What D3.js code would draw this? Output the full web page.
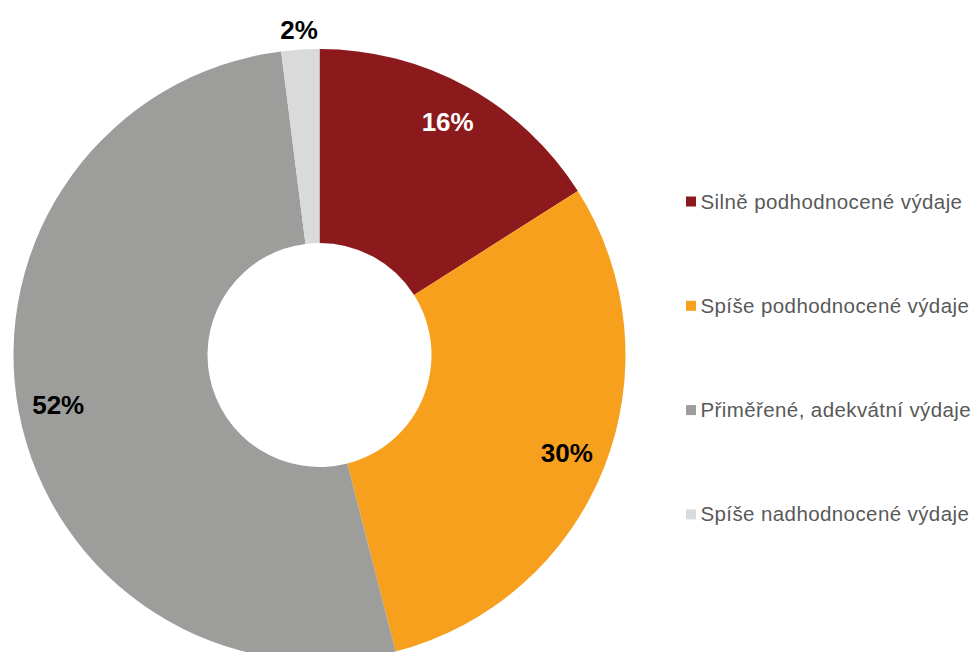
<!DOCTYPE html>
<html>
<head>
<meta charset="utf-8">
<script src="https://cdn.jsdelivr.net/npm/d3@7"></script>
<style>
  html, body { margin: 0; padding: 0; background: #fff; }
  svg { display: block; }
</style>
</head>
<body>
<svg id="chart" width="973" height="652"></svg>
<script>
// Categories, values (percent) and slice colours
const categories = [
  "Silně podhodnocené výdaje",
  "Spíše podhodnocené výdaje",
  "Přiměřené, adekvátní výdaje",
  "Spíše nadhodnocené výdaje"
];
const values = [16, 30, 52, 2];
const colors = ["#8C191B", "#F7A01E", "#9D9D9C", "#DADADA"];
const labelColors = ["#ffffff", "#000000", "#000000", "#000000"];

const svg = d3.select("#chart");
const cx = 319.5, cy = 355;
const outerR = 306, innerR = 112;

const pie = d3.pie().sort(null).value(d => d);
const arcs = pie(values);

const arc = d3.arc().innerRadius(innerR).outerRadius(outerR);
const labelArc = d3.arc().innerRadius(266).outerRadius(266);
const outsideArc = d3.arc().innerRadius(outerR + 20).outerRadius(outerR + 20);

const g = svg.append("g").attr("transform", `translate(${cx},${cy})`);

g.selectAll("path.slice")
  .data(arcs)
  .join("path")
  .attr("class", "slice")
  .attr("d", arc)
  .attr("fill", (d, i) => colors[i]);

// Percentage labels; very thin slices get their label outside the ring
const isThin = d => (d.endAngle - d.startAngle) < 0.2;
g.selectAll("text.value")
  .data(arcs)
  .join("text")
  .attr("class", "value")
  .attr("transform", d => {
    const [x, y] = (isThin(d) ? outsideArc : labelArc).centroid(d);
    return `translate(${x},${y})`;
  })
  .attr("text-anchor", "middle")
  .attr("dy", "0.35em")
  .attr("font-family", "'Liberation Sans', Arial, sans-serif")
  .attr("font-weight", "bold")
  .attr("font-size", 26)
  .attr("fill", (d, i) => isThin(d) ? "#000000" : labelColors[i])
  .text(d => d.data + "%");

// Legend
const legendX = 686, legendY0 = 201.5, legendStep = 104.3;
const items = svg.append("g")
  .selectAll("g.item")
  .data(categories)
  .join("g")
  .attr("class", "item")
  .attr("transform", (d, i) => `translate(${legendX},${legendY0 + i * legendStep})`);

items.append("rect")
  .attr("x", 0).attr("y", -5)
  .attr("width", 10).attr("height", 10)
  .attr("fill", (d, i) => colors[i]);

items.append("text")
  .attr("x", 14.5)
  .attr("y", 7)
  .attr("font-family", "'Liberation Sans', Arial, sans-serif")
  .attr("font-size", 20.5)
  .attr("letter-spacing", 0.4)
  .attr("fill", "#595959")
  .text(d => d);
</script>
</body>
</html>
